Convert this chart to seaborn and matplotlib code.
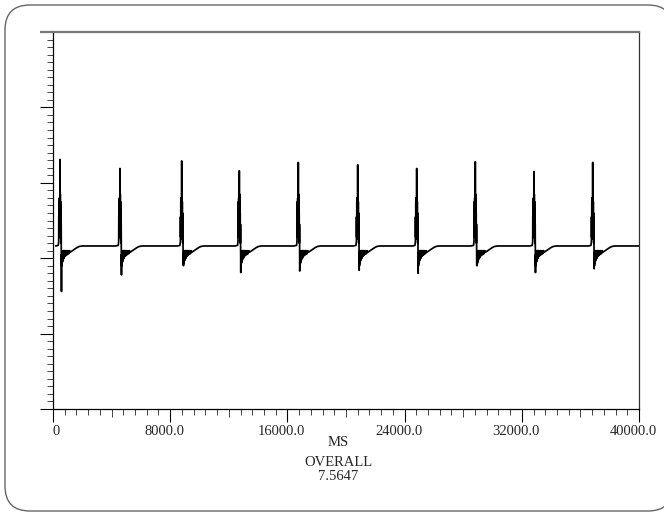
import numpy as np
import pandas as pd
import matplotlib
matplotlib.use("Agg")
import matplotlib.pyplot as plt
import matplotlib.transforms as mtransforms
from matplotlib.patches import FancyBboxPatch
from matplotlib.ticker import MultipleLocator, FixedLocator
import seaborn as sns

# ---------------- data ----------------
spike_ms = [478, 4573, 8785, 12717, 16744, 20799, 24826, 28826, 32833, 36840]
spike_peak = [3.31, 3.19, 3.29, 3.16, 3.27, 3.24, 3.19, 3.28, 3.15, 3.27]
spike_trough = [1.56, 1.78, 1.92, 1.81, 1.83, 1.84, 1.80, 1.91, 1.81, 1.86]
baseline = 2.162
end_ms = 40000

# waveform around each spike: offset (ms) and level; "P"/"T" = peak/trough slot
shape_offset_ms = [-300, -120, -90,
                   -80, -70, -60, -50, -40, -30, -20, -10, 0, 10, 20, 30, 40, 50, 60,
                   70, 80, 90,
                   100, 110, 120, 130, 140, 155, 170, 185, 200, 220, 240, 260, 280,
                   305, 330, 355, 380, 410, 440, 470, 510, 550, 600, 650, 700,
                   850, 1000, 1150, 1300, 1500]
shape_level = [2.162, 2.17, 2.22,
               2.55, 2.28, 2.75, 2.30, 2.80, 2.35, 2.70, 2.30, "P", 2.40, 2.85, 2.30,
               2.75, 2.25, 2.60, 2.20, 2.45, 2.05,
               "T", 2.05, 1.90, 2.08, 1.93, 2.09, 1.95, 2.09, 1.97, 2.10, 1.99, 2.10,
               2.00, 2.10, 2.02, 2.10, 2.03, 2.10, 2.04, 2.10, 2.05, 2.10, 2.06, 2.10,
               2.08,
               2.10, 2.12, 2.14, 2.155, 2.162]

x_ticks = [0, 8000, 16000, 24000, 32000, 40000]
x_ticklabels = ["0", "8000.0", "16000.0", "24000.0", "32000.0", "40000.0"]
x_label = "MS"
footer_title = "OVERALL"
footer_value = "7.5647"

# ---------------- assemble series ----------------
ts, vs = [], []
for t0, pk, tr in zip(spike_ms, spike_peak, spike_trough):
    for off, lvl in zip(shape_offset_ms, shape_level):
        ts.append(t0 + off)
        vs.append(pk if lvl == "P" else (tr if lvl == "T" else lvl))
ts.append(end_ms)
vs.append(baseline)
df = pd.DataFrame({"ms": ts, "value": vs})

# ---------------- figure ----------------
sns.set_style("white")
plt.rcParams["font.family"] = ["Liberation Serif", "DejaVu Serif"]

W, H = 664, 512
fig = plt.figure(figsize=(W / 100, H / 100), dpi=100, facecolor="white")

# rounded outer frame (filled white so it sits cleanly behind everything)
border = FancyBboxPatch((5, 1), 668, 506, boxstyle="round,pad=0,rounding_size=25",
                        transform=None, facecolor="white", edgecolor="#666666",
                        linewidth=1.0, zorder=-10)
fig.patches.append(border)

ax = fig.add_axes([53 / W, 1 - 409 / H, (639 - 53) / W, (409 - 32) / H])

sns.lineplot(data=df, x="ms", y="value", ax=ax, color="black", linewidth=1.25,
             estimator=None, sort=False, legend=False)

ax.set_xlim(0, 40000)
ax.set_ylim(0, 5)
ax.set_xlabel("")
ax.set_ylabel("")

ax.xaxis.set_major_locator(FixedLocator(x_ticks))
ax.set_xticklabels(x_ticklabels)
ax.xaxis.set_minor_locator(MultipleLocator(800))
ax.yaxis.set_major_locator(MultipleLocator(1))
ax.yaxis.set_minor_locator(MultipleLocator(0.1))

ax.tick_params(axis="both", which="major", direction="out", length=9.4, width=0.8,
               color="black", labelsize=10.5, pad=2, left=True, bottom=True)
ax.tick_params(axis="both", which="minor", direction="out", length=4.3, width=0.7,
               color="#444444", left=True, bottom=True)
ax.tick_params(axis="y", which="both", labelleft=False)

# medium ticks at the midpoints between labelled x ticks
minor_locs = ax.xaxis.get_minorticklocs()
for loc, tk in zip(minor_locs, ax.xaxis.get_minor_ticks(len(minor_locs))):
    if abs((loc % 8000) - 4000) < 1:
        tk.tick1line.set_markersize(5.8)

# top y tick drawn in the grey of the top frame line
ymaj = ax.yaxis.get_majorticklocs()
for loc, tk in zip(ymaj, ax.yaxis.get_major_ticks(len(ymaj))):
    if abs(loc - 5) < 1e-6:
        tk.tick1line.set_markeredgecolor("#777777")
        tk.tick1line.set_markeredgewidth(1.6)

# label horizontal offsets as in the reference
for lab in ax.get_xticklabels():
    dx = 3 if lab.get_text() == "0" else -6
    lab.set_transform(lab.get_transform() +
                      mtransforms.ScaledTranslation(dx / 100, 0, fig.dpi_scale_trans))

for side in ["left", "bottom"]:
    ax.spines[side].set_color("black")
    ax.spines[side].set_linewidth(0.9)
ax.spines["top"].set_color("#777777")
ax.spines["top"].set_linewidth(1.6)
ax.spines["right"].set_color("#333333")
ax.spines["right"].set_linewidth(0.9)

fig.text(338 / W, 1 - 442 / H, x_label, ha="center", va="center", fontsize=10.5)
fig.text(338 / W, 1 - 463 / H, footer_title, ha="center", va="center", fontsize=10.5)
fig.text(338 / W, 1 - 477 / H, footer_value, ha="center", va="center", fontsize=10.5)

fig.savefig("out.png", dpi=100, facecolor="white")
